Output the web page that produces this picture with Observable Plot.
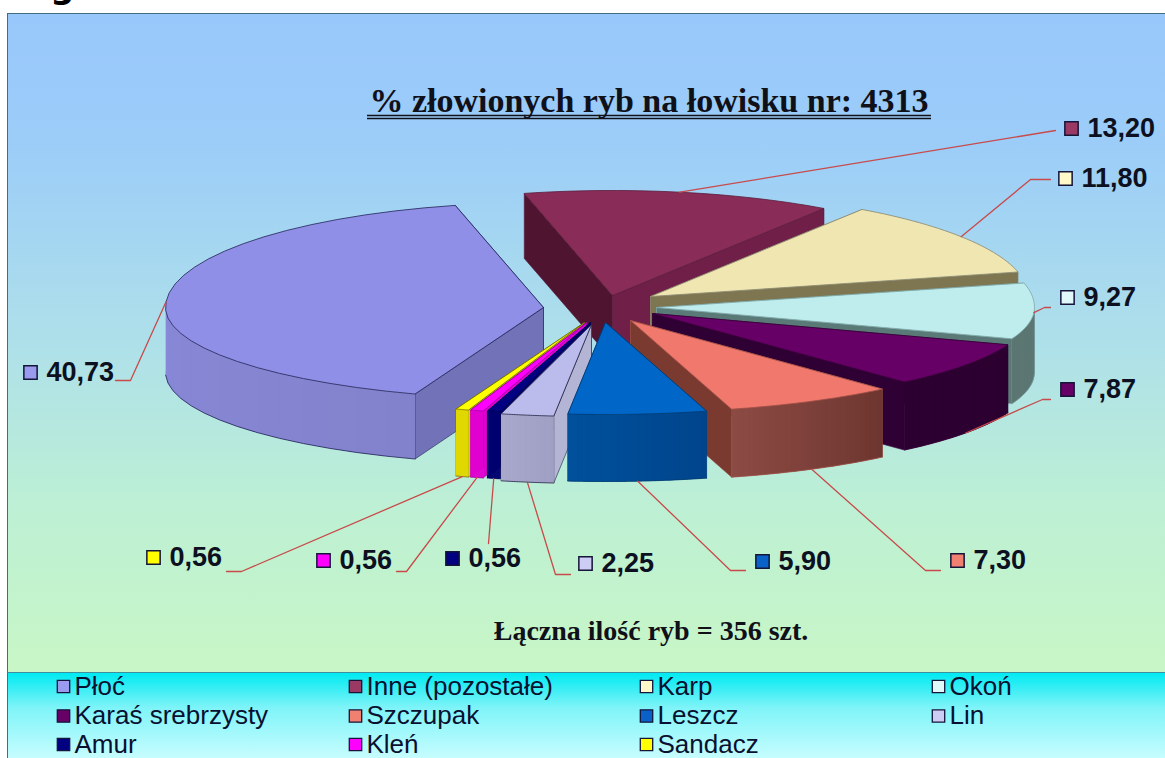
<!DOCTYPE html>
<html><head><meta charset="utf-8">
<script src="https://cdn.jsdelivr.net/npm/d3@7"></script>
<script src="https://cdn.jsdelivr.net/npm/@observablehq/plot@0.6"></script>
<style>
html,body{margin:0;padding:0;background:#fff;overflow:hidden}
#stage{position:relative;width:1165px;height:758px;overflow:hidden}
#panel{position:absolute;left:7px;top:13px;width:1158px;height:658px;border:1px solid #3f6f80;border-right:none;border-bottom:none;background:linear-gradient(#98c7fb 0%,#9ccdf8 20%,#aee0ea 50%,#bdf0d4 75%,#c8f6c6 100%)}
#legendBand{position:absolute;left:7px;top:672px;width:1158px;height:86px;border-top:1px solid #3f8fa0;border-left:1px solid #3f6f80;background:linear-gradient(#00eaf2 0%,#7ef4f8 40%,#c8fdff 100%)}
#chart{position:absolute;left:0;top:0}
</style></head><body>
<div id="stage"><div id="panel"></div><div id="legendBand"></div><div id="chart"></div></div>
<script>
// ---- data
const names = ["Płoć","Inne (pozostałe)","Karp","Okoń","Karaś srebrzysty","Szczupak","Leszcz","Lin","Amur","Kleń","Sandacz"];
const values = [40.73,13.20,11.80,9.27,7.87,7.30,5.90,2.25,0.56,0.56,0.56];
const labels = ["40,73","13,20","11,80","9,27","7,87","7,30","5,90","2,25","0,56","0,56","0,56"];
const swatch = ["#9a9aee","#9a3a64","#fff8c8","#e0f8fa","#660066","#f08070","#0a62c8","#ccccf4","#000080","#ff00ff","#ffff00"];
const title = "% złowionych ryb na łowisku nr: 4313";
const footer = "Łączna ilość ryb = 356 szt.";
const clippedHeading = "g";

// ---- pie slices, starting at Inne and running clockwise from 13.5° left of the top
const sliceOrder = [1,2,3,4,5,6,7,8,9,10,0];
const deg = Math.PI/180;
const arcs = d3.pie().sort(null).startAngle(-13.5*deg).endAngle(346.5*deg)(sliceOrder.map(i=>values[i]));
const angle = new Map(sliceOrder.map((i,k)=>[i,[arcs[k].startAngle,arcs[k].endAngle]]));

// ---- 3D look of each slice
const apex = [[543,307],[612,295],[650,296],[656,307],[652,313],[630,320],[605,322],[591,324],[590,322],[586,322],[584,322]];
const depth = [65,65,65,65,68,68,67,67,67,67,67];
const topFill = ["#8f8fe8","#8a2c58","#efe6b2","#bfecec","#660066","#f0786c","#0066c8","#bcbcec","#000080","#ff00ff","#ffff00"];
const topLine = ["#222255","#5a1c3a","#8a8870","#7fa8a8","#3a003a","#a05048","#003a70","#222244","#000050","#a000a0","#666600"];
const radialFill = [["#7272b8","#7a7ac0"],["#4f1530","#701f48"],["#7e7650","#7e7650"],["#5a7a78","#5a7a78"],["#2e0033","#2e0033"],["#7a3a30","#7a3a30"],["#004a90","#004a90"],["#b4b4d4","#a3a3c8"],["#000070","#000070"],["#e000d0","#e000d0"],["#e0d800","#e0d800"]];
const outerFill = [["#8282cc","#8f8fe6"],["#701f48","#701f48"],["#7e7650","#7e7650"],["#5c7672","#5c7672"],["#2c0030","#2c0030"],["#6e3630","#8c4a44"],["#00458c","#00509c"],["#a0a0c4","#a8a8cc"],["#000070","#000070"],["#e000d0","#e000d0"],["#e0d800","#e0d800"]];
const R = 378, ryBack = 105, ryFront = 92;
const pt = (i,t,dz=0) => { const c = -Math.cos(t); return [apex[i][0]+R*Math.sin(t), apex[i][1]+c*(c<0?ryBack:ryFront)+dz]; };

// painter's order, back to front
const paint = [1,2,0,3,4,5,10,9,8,7,6];
const marks = [];
for (const i of paint) {
  const [a0,a1] = angle.get(i), d = depth[i], ts = d3.range(0,31).map(k=>a0+(a1-a0)*k/30);
  const radials = [[a0,radialFill[i][0]],[a1,radialFill[i][1]]].sort((p,q)=>pt(i,p[0])[1]-pt(i,q[0])[1]);
  for (const [t,f] of radials) {
    const p=pt(i,t), q=pt(i,t,d);
    marks.push(Plot.line([apex[i],p,q,[apex[i][0],apex[i][1]+d],apex[i]],{fill:f,stroke:topLine[i],strokeWidth:0.6,curve:"linear"}));
  }
  const mix = d3.interpolateRgb(outerFill[i][0],outerFill[i][1]);
  d3.pairs(ts).forEach(([u,v],k)=>{
    if (-Math.cos((u+v)/2)<=0) return;
    const w = ts[Math.min(k+2,30)];   // each quad overlaps the next, so no seams show
    marks.push(Plot.line([pt(i,u),pt(i,v),pt(i,w),pt(i,w,d),pt(i,v,d),pt(i,u,d),pt(i,u)],{fill:mix(k/29),curve:"linear"}));
  });
  const front = ts.filter(t=>-Math.cos(t)>0);
  if (front.length) marks.push(Plot.line(front.map(t=>pt(i,t,d)),{stroke:topLine[i],strokeWidth:0.8,curve:"linear"}));
  marks.push(Plot.line([apex[i],...ts.map(t=>pt(i,t)),apex[i]],{fill:topFill[i],stroke:topLine[i],strokeWidth:0.8,curve:"linear"}));
}

// ---- callouts: elbow and end of each leader, swatch and text position
const elbow = [[130,380],[1055,130],[1030,179],[1044,307],[1042,399],[925,570],[730,570],[555,574],[488,543],[406,571],[241,571]];
const leaderEnd = [[115,380],[1055,130],[1050,179],[1050,307],[1050,399],[940,570],[745,570],[570,574],[488,543],[396,571],[226,571]];
const keyAt = [[30,372],[1071,128],[1065,178],[1067,297],[1067,389],[957,560],[762,561],[585,563],[452,558],[323,560],[153,557]];
const leaders = values.map((_,i)=>{
  const [a0,a1]=angle.get(i), m=(a0+a1)/2;
  const start = pt(i,m,-Math.cos(m)>0.3?depth[i]:0);
  return {i,pts:[start,elbow[i],leaderEnd[i]]};
});
for (const l of leaders) marks.push(Plot.line(l.pts,{stroke:"#c84a4a",strokeWidth:1.3,curve:"linear"}));
const callouts = values.map((_,i)=>({x:keyAt[i][0],y:keyAt[i][1],fill:swatch[i],label:labels[i]}));
marks.push(Plot.dot(callouts,{x:"x",y:"y",symbol:"square",r:7.5,fill:d=>d.fill,stroke:"#15153a",strokeWidth:1.5}));
marks.push(Plot.text(callouts,{x:"x",y:"y",dx:16,text:"label",textAnchor:"start",fontFamily:"'Liberation Sans Narrow','Liberation Sans',sans-serif",fontWeight:"bold",fontSize:27,fill:"#0c1020",style:"letter-spacing:1.4px"}));

// ---- title, footer and the cut-off heading above the panel
marks.push(Plot.text([title],{x:648.5,y:101,text:d=>d,fontFamily:"'Liberation Serif',serif",fontWeight:"bold",fontSize:34,fill:"#101018",textAnchor:"middle",style:"letter-spacing:1.5px"}));
marks.push(Plot.ruleY([115,118],{x1:367,x2:931,stroke:"#101018",strokeWidth:1.4}));
marks.push(Plot.text([footer],{x:650.5,y:631,text:d=>d,fontFamily:"'Liberation Serif',serif",fontWeight:"bold",fontSize:28,fill:"#101018",textAnchor:"middle",style:"letter-spacing:1.3px"}));
marks.push(Plot.text([clippedHeading],{x:62,y:-13,text:d=>d,fontFamily:"'DejaVu Sans',sans-serif",fontWeight:"bold",fontSize:34,fill:"#000"}));

// ---- legend
const legendColX = [63,355,646,938], legendRowY = [686,715.5,744];
const legend = names.map((n,i)=>({n,fill:swatch[i],x:legendColX[i%4],y:legendRowY[Math.floor(i/4)]}));
marks.push(Plot.dot(legend,{x:"x",y:"y",symbol:"square",r:7,fill:d=>d.fill,stroke:"#15153a",strokeWidth:1.3}));
marks.push(Plot.text(legend,{x:"x",y:"y",dx:11,text:"n",textAnchor:"start",fontFamily:"'Liberation Sans',Arial,sans-serif",fontSize:26,fill:"#0a1030"}));

document.getElementById("chart").append(Plot.plot({
  width:1165,height:758,margin:0,
  x:{domain:[0,1165],range:[0,1165],axis:null},
  y:{domain:[0,758],range:[0,758],axis:null},
  style:{background:"transparent"},
  marks
}));
</script></body></html>
